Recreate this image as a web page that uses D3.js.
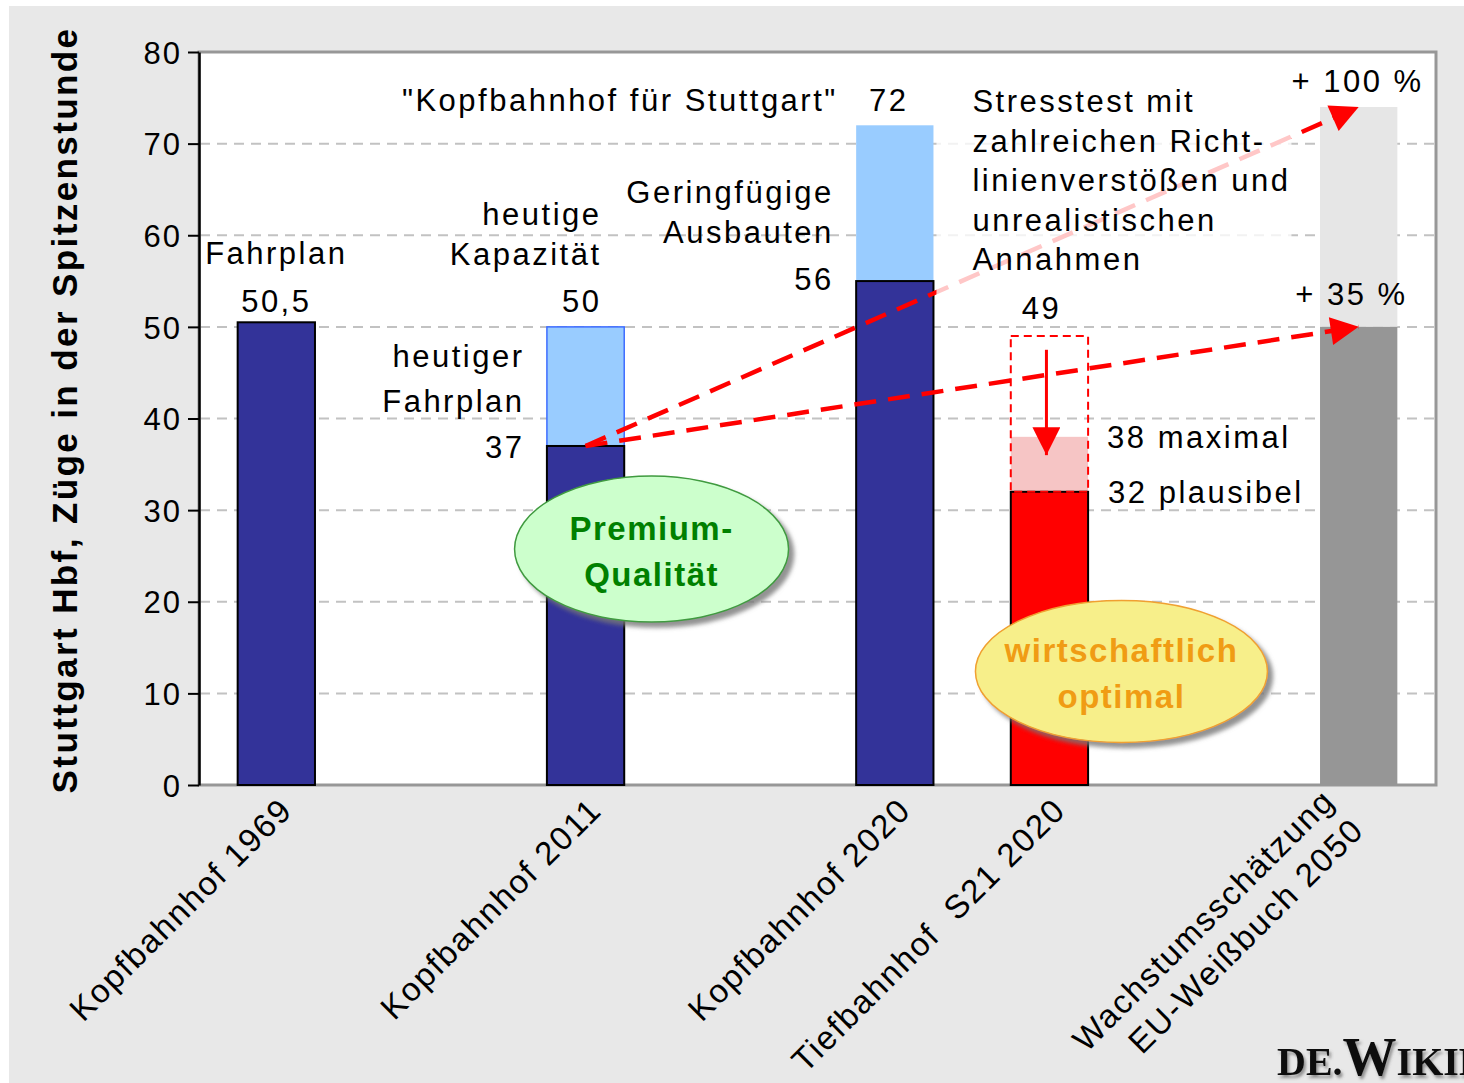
<!DOCTYPE html>
<html>
<head>
<meta charset="utf-8">
<script src="https://cdn.jsdelivr.net/npm/d3@7"></script>
<style>
body { margin: 0; background: #fff; }
</style>
</head>
<body>
<div id="chart"></div>
<script>
// categories, with empty slots so the bars keep the original spacing
const slots = ["Kopfbahnhof 1969", "gap1", "Kopfbahnhof 2011", "gap2", "Kopfbahnhof 2020", "Tiefbahnhof  S21 2020", "gap3", "Wachstumsschätzung\nEU-Weißbuch 2050"];
const categories = ["Kopfbahnhof 1969", "Kopfbahnhof 2011", "Kopfbahnhof 2020", "Tiefbahnhof  S21 2020", "Wachstumsschätzung\nEU-Weißbuch 2050"];
const lowerValues = [50.5, 37, 55, 32, 50];
const upperValues = [null, 50, 72, 38, 74];
const stressValue = 49;
const yTicks = [0, 10, 20, 30, 40, 50, 60, 70, 80];
const arrowStart = 37;            // Kopfbahnhof 2011, heutiger Fahrplan
const arrowTargets = [74, 50];    // Wachstum +100 %, +35 %
const dropArrow = [47.5, 36];     // S21: 49 -> 38

const W = 1464, H = 1083;
const area = {left: 199, top: 52, right: 1436, bottom: 785};
const font = '"Liberation Sans", Arial, sans-serif';

const svg = d3.select("#chart").append("svg")
	.attr("width", W)
	.attr("height", H);

const defs = svg.append("defs");
const shadow = defs.append("filter").attr("id", "shadow")
	.attr("x", "-20%").attr("y", "-20%").attr("width", "140%").attr("height", "140%");
shadow.append("feDropShadow").attr("dx", 5).attr("dy", 5).attr("stdDeviation", 2)
	.attr("flood-color", "#777").attr("flood-opacity", 0.8);
const shadow2 = defs.append("filter").attr("id", "shadow2");
shadow2.append("feDropShadow").attr("dx", 2).attr("dy", 3).attr("stdDeviation", 1.5)
	.attr("flood-color", "#555").attr("flood-opacity", 0.6);

function marker(id, w, h) {
	defs.append("marker").attr("id", id)
		.attr("viewBox", "0 0 10 10")
		.attr("refX", 10).attr("refY", 5)
		.attr("markerWidth", w).attr("markerHeight", h)
		.attr("markerUnits", "userSpaceOnUse")
		.attr("orient", "auto")
		.append("path").attr("d", "M0,0L10,5L0,10Z").attr("fill", "#ff0000");
}
marker("head", 34, 28);
marker("head2", 28, 28);

// background
svg.append("rect").attr("x", 9).attr("y", 6)
	.attr("width", W - 9).attr("height", H - 6)
	.attr("fill", "#e8e8e8");

const x = d3.scaleBand()
	.domain(slots)
	.range([area.left, area.right])
	.paddingInner(0.5)
	.paddingOuter(0.25);
const y = d3.scaleLinear()
	.domain([0, 80])
	.range([area.bottom, area.top]);
const bw = x.bandwidth();
const cx = c => x(c) + bw / 2;

// plot area
svg.append("rect")
	.attr("x", area.left).attr("y", area.top)
	.attr("width", area.right - area.left).attr("height", area.bottom - area.top)
	.attr("fill", "white")
	.attr("stroke", "#979797")
	.attr("stroke-width", 3);

// grid
svg.append("g").selectAll("line")
	.data(yTicks.filter(d => d > 0 && d < 80))
	.join("line")
	.attr("x1", area.left + 1).attr("x2", area.right - 2)
	.attr("y1", d => y(d)).attr("y2", d => y(d))
	.attr("stroke", "#c2c2c2")
	.attr("stroke-width", 2)
	.attr("stroke-dasharray", "10,7");

// bars
const bars = categories.map((c, i) => ({cat: c, lo: lowerValues[i], hi: upperValues[i], i: i}));
const lowFill = ["#333399", "#333399", "#333399", "#ff0000", "#969696"];
const highFill = [null, "#99ccff", "#99ccff", "#f6c5c5", "#e6e6e6"];

svg.append("g").selectAll("rect")
	.data(bars.filter(d => d.hi !== null))
	.join("rect")
	.attr("x", d => x(d.cat))
	.attr("width", bw)
	.attr("y", d => y(d.hi))
	.attr("height", d => y(d.lo) - y(d.hi))
	.attr("fill", d => highFill[d.i])
	.attr("stroke", d => d.i === 1 ? "#3d6cff" : "none")
	.attr("stroke-width", 1.5);

svg.append("g").selectAll("rect")
	.data(bars)
	.join("rect")
	.attr("x", d => x(d.cat))
	.attr("width", bw)
	.attr("y", d => y(d.lo))
	.attr("height", d => y(0) - y(d.lo))
	.attr("fill", d => lowFill[d.i])
	.attr("stroke", d => d.i === 4 ? "none" : "#000")
	.attr("stroke-width", 2);

// dashed box S21
const s21 = categories[3];
svg.append("rect")
	.attr("x", x(s21)).attr("width", bw)
	.attr("y", y(stressValue)).attr("height", y(lowerValues[3]) - y(stressValue))
	.attr("fill", "none")
	.attr("stroke", "#ff0000")
	.attr("stroke-width", 2)
	.attr("stroke-dasharray", "8,5");

// y axis
const gy = svg.append("g")
	.attr("transform", `translate(${area.left},0)`)
	.call(d3.axisLeft(y).tickValues(yTicks).tickSize(11).tickSizeOuter(0).tickPadding(6));
gy.select(".domain").attr("stroke", "#000").attr("stroke-width", 2.5);
gy.selectAll(".tick line").attr("stroke", "#000").attr("stroke-width", 2);
gy.selectAll(".tick text")
	.attr("font-family", font)
	.attr("font-size", 31)
	.attr("letter-spacing", "2px")
	.attr("fill", "#000")
	.attr("dy", "0.36em");

// arrows 2011 -> 2050
const c2011 = categories[1], c2050 = categories[4];
svg.append("g").selectAll("line")
	.data(arrowTargets)
	.join("line")
	.attr("x1", cx(c2011)).attr("y1", y(arrowStart))
	.attr("x2", cx(c2050)).attr("y2", d => y(d))
	.attr("stroke", "#ff0000")
	.attr("stroke-width", 4.5)
	.attr("stroke-dasharray", "22,12")
	.attr("marker-end", "url(#head)");

svg.append("line")
	.attr("x1", cx(s21) - 3).attr("x2", cx(s21) - 3)
	.attr("y1", y(dropArrow[0])).attr("y2", y(dropArrow[1]))
	.attr("stroke", "#ff0000")
	.attr("stroke-width", 3)
	.attr("marker-end", "url(#head2)");

// white veil behind the stress-test text
svg.append("rect")
	.attr("x", x(categories[2]) + bw + 3).attr("y", 72)
	.attr("width", 355).attr("height", 226)
	.attr("fill", "white").attr("opacity", 0.78);

// annotations
const c1969 = categories[0], c2020 = categories[2];
const notes = [
	{c: c1969, dx: 0, v: 50.5, a: "middle", lines: [["Fahrplan", -58], ["50,5", -10]]},
	{c: c2011, dx: 16, v: 50, a: "end", lines: [["heutige", -102], ["Kapazität", -62], ["50", -15]]},
	{c: c2011, dx: -61, v: 37, a: "end", lines: [["heutiger", -79], ["Fahrplan", -34], ["37", 12]]},
	{c: c2020, dx: -61, v: 55, a: "end", lines: [["Geringfügige", -78], ["Ausbauten", -38], ["56", 9]]},
	{c: c2020, dx: -57, v: 72, a: "end", lines: [["\"Kopfbahnhof für Stuttgart\"", -14]]},
	{c: c2020, dx: -6, v: 72, a: "middle", lines: [["72", -14]]},
	{c: s21, dx: -77, v: 72, a: "start", lines: [["Stresstest mit", -13], ["zahlreichen Richt-", 26.5], ["linienverstößen und", 66], ["unrealistischen", 105.5], ["Annahmen", 145]]},
	{c: s21, dx: -8, v: stressValue, a: "middle", lines: [["49", -17]]},
	{c: s21, dx: bw / 2 + 19, v: upperValues[3], a: "start", lines: [["38 maximal", 11]]},
	{c: s21, dx: bw / 2 + 20, v: lowerValues[3], a: "start", lines: [["32 plausibel", 11]]},
	{c: c2050, dx: 65, v: arrowTargets[0], a: "end", lines: [["+ 100 %", -15]]},
	{c: c2050, dx: 49, v: arrowTargets[1], a: "end", lines: [["+ 35 %", -22]]}
];

const gn = svg.append("g")
	.attr("font-family", font)
	.attr("font-size", 31)
	.attr("letter-spacing", "2.5px")
	.attr("fill", "#000");
notes.forEach(n => {
	const t = gn.append("text").attr("text-anchor", n.a);
	n.lines.forEach(([s, off]) => {
		t.append("tspan")
			.attr("x", cx(n.c) + n.dx)
			.attr("y", y(n.v) + off)
			.text(s);
	});
});

// ellipses
function bubble(c, dx, v, rx, ry, fill, stroke, col, lines) {
	const g = svg.append("g");
	g.append("ellipse")
		.attr("cx", cx(c) + dx).attr("cy", y(v))
		.attr("rx", rx).attr("ry", ry)
		.attr("fill", fill)
		.attr("stroke", stroke)
		.attr("stroke-width", 1.5)
		.attr("filter", "url(#shadow)");
	g.append("text")
		.attr("text-anchor", "middle")
		.attr("font-family", font)
		.attr("font-weight", "bold")
		.attr("font-size", 33)
		.attr("letter-spacing", "1.5px")
		.attr("fill", col)
		.selectAll("tspan")
		.data(lines)
		.join("tspan")
		.attr("x", cx(c) + dx)
		.attr("y", d => y(v) + d[1])
		.text(d => d[0]);
}
bubble(c2011, 66, 25.75, 137, 73, "#ccffcc", "#3f9a3f", "#008000", [["Premium-", -9], ["Qualität", 37]]);
bubble(s21, 72, 12.4, 146, 71, "#f7ef8a", "#f0a030", "#f09c14", [["wirtschaftlich", -9], ["optimal", 37]]);

// x labels
svg.append("g").selectAll("text")
	.data(categories)
	.join("text")
	.attr("transform", d => {
		const n = d.split("\n").length;
		return `translate(${cx(d) + 18 - (n - 1) * 40},${812 - (n - 1) * 9}) rotate(-45)`;
	})
	.attr("text-anchor", "end")
	.attr("font-family", font)
	.attr("font-size", 33)
	.attr("letter-spacing", "1.8px")
	.style("white-space", "pre")
	.each(function(d) {
		d3.select(this).selectAll("tspan")
			.data(d.split("\n"))
			.join("tspan")
			.attr("x", 0)
			.attr("dy", (_, i) => i ? 41 : 0)
			.text(s => s);
	});

// y title
svg.append("text")
	.attr("transform", `translate(77,410) rotate(-90)`)
	.attr("text-anchor", "middle")
	.attr("font-family", font)
	.attr("font-weight", "bold")
	.attr("font-size", 35)
	.attr("letter-spacing", "2.4px")
	.text("Stuttgart Hbf, Züge in der Spitzenstunde");

// watermark
const wm = svg.append("text")
	.attr("x", 1277).attr("y", 1075)
	.attr("font-family", '"Liberation Serif", "Times New Roman", serif')
	.attr("font-weight", "bold")
	.attr("fill", "#111")
	.attr("filter", "url(#shadow2)");
wm.append("tspan").attr("font-size", 40).text("DE.");
wm.append("tspan").attr("font-size", 54).text("W");
wm.append("tspan").attr("font-size", 40).text("IKIPEDIA");
</script>
</body>
</html>
